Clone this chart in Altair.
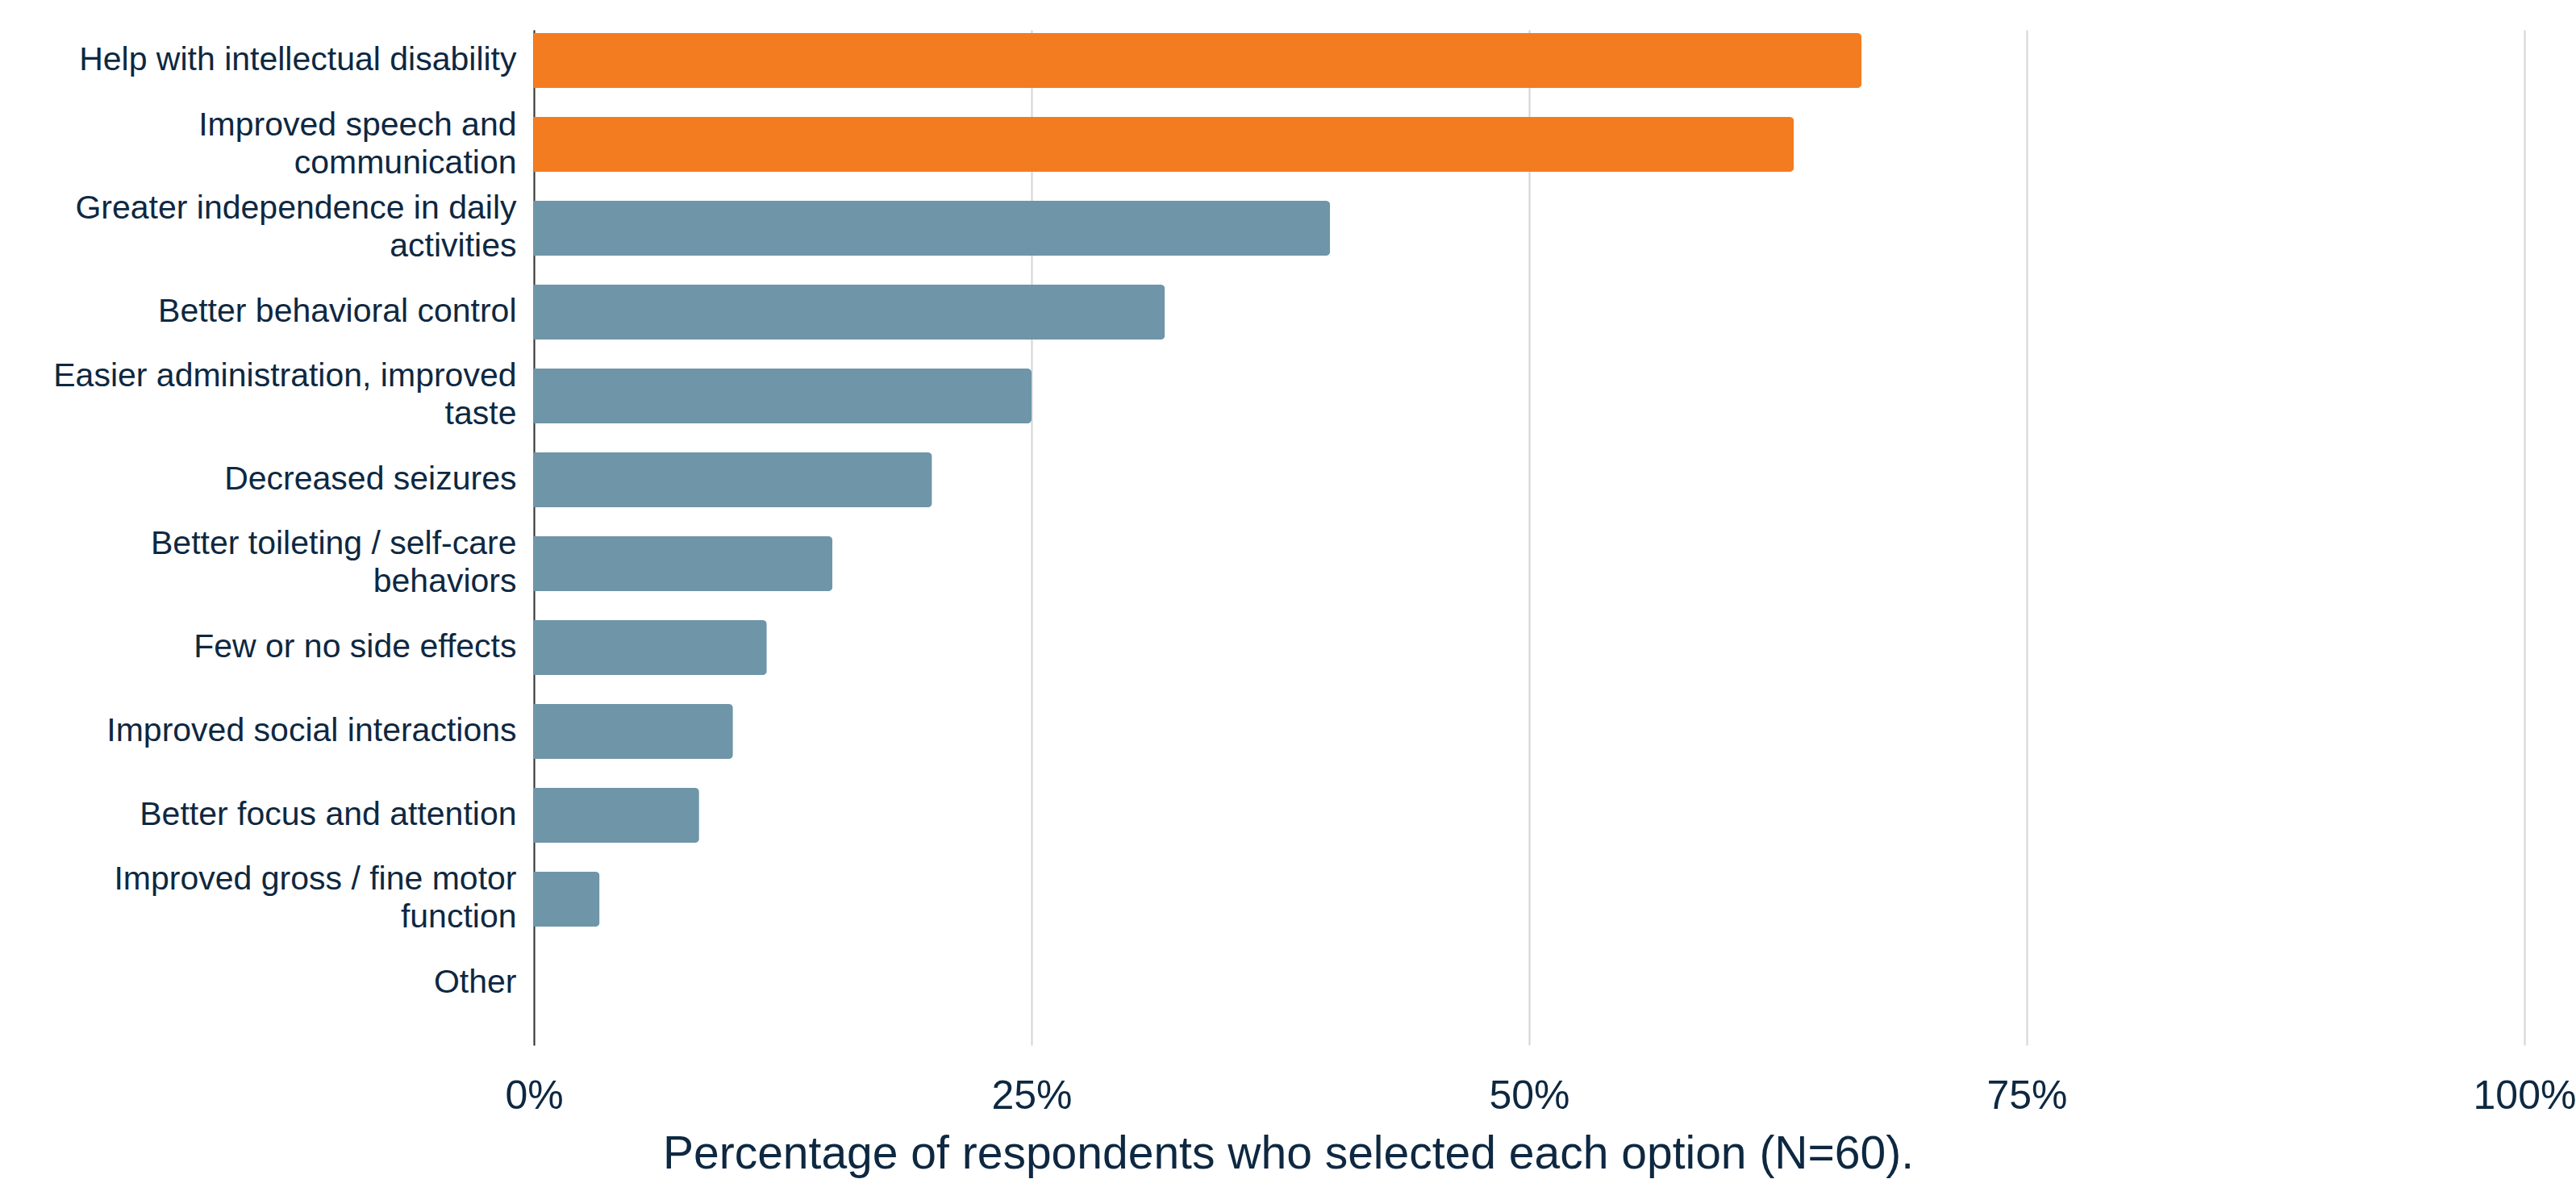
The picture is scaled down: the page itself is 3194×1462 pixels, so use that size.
import altair as alt
import pandas as pd

labels = [
    "Help with intellectual disability",
    "Improved speech and|communication",
    "Greater independence in daily|activities",
    "Better behavioral control",
    "Easier administration, improved|taste",
    "Decreased seizures",
    "Better toileting / self-care|behaviors",
    "Few or no side effects",
    "Improved social interactions",
    "Better focus and attention",
    "Improved gross / fine motor|function",
    "Other",
]
values = [66.7, 63.3, 40.0, 31.7, 25.0, 20.0, 15.0, 11.7, 10.0, 8.3, 3.3, 0.0]
highlight = ["top", "top", "rest", "rest", "rest", "rest", "rest", "rest", "rest", "rest", "rest", "rest"]
x_ticks = [0, 25, 50, 75, 100]

df = pd.DataFrame({"label": labels, "value": values, "group": highlight})

text_color = "#0E2841"
font = "Liberation Sans"

chart = (
    alt.Chart(df)
    .mark_bar(cornerRadiusEnd=5)
    .encode(
        x=alt.X(
            "value:Q",
            scale=alt.Scale(domain=[0, 100], nice=False),
            axis=alt.Axis(
                values=x_ticks,
                labelExpr="datum.value + '%'",
                title="Percentage of respondents who selected each option (N=60).",
                titleFont=font,
                titleFontSize=57,
                titleFontWeight="normal",
                titleColor=text_color,
                titleX=935,
                titleY=152,
                titleAlign="center",
                titleBaseline="alphabetic",
                labelFont=font,
                labelFontSize=50,
                labelColor=text_color,
                labelPadding=38,
                ticks=False,
                domain=False,
                grid=True,
                gridColor="#d4d4d4",
                gridWidth=2,
                labelFlush=False,
            ),
        ),
        y=alt.Y(
            "label:N",
            sort=labels,
            scale=alt.Scale(paddingInner=0.346, paddingOuter=0.226, align=0.085),
            axis=alt.Axis(
                title=None,
                labelExpr="split(datum.label, '|')",
                labelFont=font,
                labelFontSize=41,
                labelLineHeight=47,
                labelBaseline="middle",
                labelOffset={
                    "condition": {"test": "indexof(datum.value, '|') >= 0", "value": -23.5},
                    "value": 0,
                },
                labelColor=text_color,
                labelPadding=22,
                labelLimit=1000,
                ticks=False,
                domain=True,
                domainColor="#333333",
                domainWidth=2,
                grid=False,
            ),
        ),
        color=alt.Color(
            "group:N",
            scale=alt.Scale(domain=["top", "rest"], range=["#F47C20", "#6F95A8"]),
            legend=None,
        ),
    )
    .properties(
        width=2468,
        height=1259,
        background="white",
        autosize=alt.AutoSizeParams(type="none"),
        padding={"left": 662, "top": 37, "right": 64, "bottom": 166},
    )
    .configure_view(stroke=None)
)

chart.save("out.html", embed_options={"renderer": "svg", "actions": False})
